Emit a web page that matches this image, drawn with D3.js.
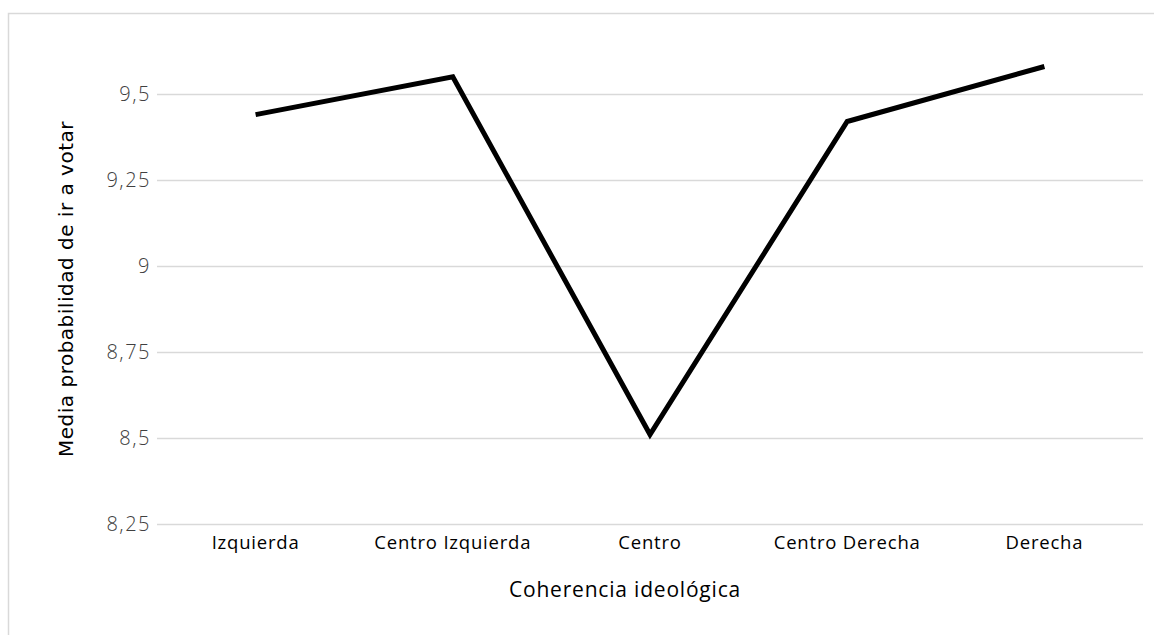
<!DOCTYPE html>
<html><head><meta charset="utf-8">
<script src="https://cdn.jsdelivr.net/npm/d3@7"></script>
<style>body{margin:0;background:#fff}svg{display:block}</style>
</head><body>
<svg id="c" width="1154" height="635"></svg>
<script>
const categories = ["Izquierda","Centro Izquierda","Centro","Centro Derecha","Derecha"];
const values = [9.44, 9.55, 8.51, 9.42, 9.58];
const yTicks = [8.25, 8.5, 8.75, 9, 9.25, 9.5];
const yTitle = "Media probabilidad de ir a votar";
const xTitle = "Coherencia ideológica";

const svg = d3.select("#c");
const L = 157, R = 1143;
const x = d3.scaleBand().domain(categories).range([L, R]);
const y = d3.scaleLinear().domain([8.25, 9.75]).range([524, 8]);
const fmt = d => d3.format("")(d).replace(".", ",");
const F = "'Open Sans', Lato, sans-serif";

// frame
svg.append("rect").attr("x",8.5).attr("y",13.5).attr("width",1200).attr("height",700)
  .attr("fill","none").attr("stroke","#d9d9d9").attr("stroke-width",1.5);

// grid
const ya = d3.axisLeft(y).tickValues(yTicks).tickSize(-(R-L)).tickFormat(fmt).tickPadding(6);
const g = svg.append("g").attr("transform",`translate(${L},0)`).call(ya);
g.select(".domain").remove();
g.selectAll(".tick line").attr("stroke","#d9d9d9").attr("stroke-width",1.5);
g.selectAll(".tick text").attr("font-family",F).attr("font-weight",300)
  .attr("font-size",20).attr("letter-spacing",1.5).attr("fill","#404040");

// x labels
const xa = d3.axisBottom(x).tickSize(0).tickPadding(12);
const gx = svg.append("g").attr("transform",`translate(0,524)`).call(xa);
gx.select(".domain").remove();
gx.selectAll(".tick text").attr("font-family",F)
  .attr("font-size",18.5).attr("letter-spacing",0.8).attr("fill","#000");

// line
const line = d3.line().x((d,i)=>x(categories[i])+x.bandwidth()/2).y(d=>y(d));
svg.append("path").datum(values).attr("d",line).attr("fill","none")
  .attr("stroke","#000").attr("stroke-width",5).attr("stroke-linejoin","miter");

// titles
svg.append("text").attr("x",625).attr("y",597).attr("text-anchor","middle")
  .attr("font-family",F).attr("font-size",21).attr("letter-spacing",0.8).attr("fill","#000").text(xTitle);
svg.append("text").attr("transform","translate(73,289) rotate(-90)").attr("text-anchor","middle")
  .attr("font-family","'DejaVu Sans', sans-serif").attr("font-size",20).attr("letter-spacing",0.5).attr("fill","#000").text(yTitle);
</script>
</body></html>
